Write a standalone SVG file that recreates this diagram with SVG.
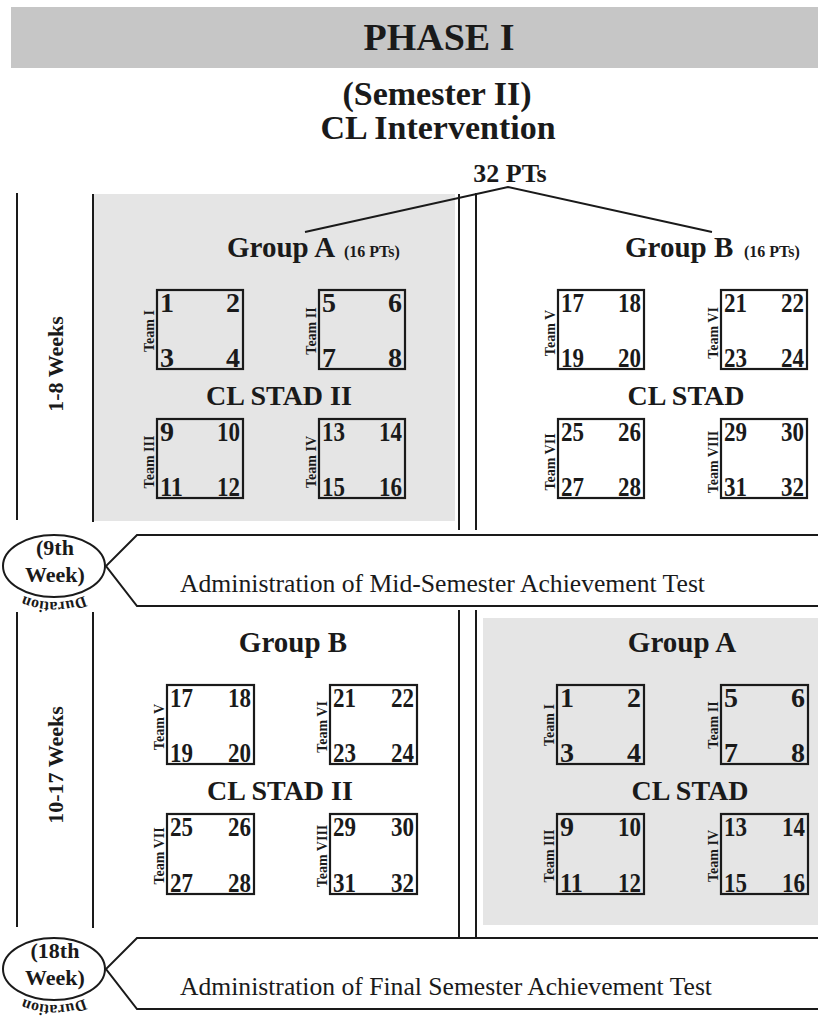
<svg xmlns="http://www.w3.org/2000/svg" width="818" height="1023" viewBox="0 0 818 1023">
<style>
text{font-family:"Liberation Serif","Times New Roman",serif;fill:#1a1a1a}
.b{font-weight:bold}
.h1{font-size:38px;font-weight:bold}
.h2{font-size:34px;font-weight:bold}
.grp{font-size:29px;font-weight:bold}
.pts{font-size:16px;font-weight:bold}
.stad{font-size:28px;font-weight:bold}
.n{font-size:28px;font-weight:bold}
.tm{font-size:14px;font-weight:bold}
.wk{font-size:22px;font-weight:bold}
.adm{font-size:25px}
.ell{font-size:22px;font-weight:bold}
.dur{font-size:16px;font-weight:bold}
.box{fill:none;stroke:#1a1a1a;stroke-width:2.2}
.ln{fill:none;stroke:#1a1a1a;stroke-width:2}
.panel{fill:#e5e5e5}
</style>
<defs>
<path id="arc1" d="M 108 566 A 54 36 0 0 1 0 566"/>
<path id="arc2" d="M 108 969 A 54 36 0 0 1 0 969"/>
</defs>
<rect width="818" height="1023" fill="#ffffff"/>

<g id="header">
<rect x="11" y="7" width="807" height="61" fill="#c6c6c6"/>
<text class="h1" x="439" y="50" text-anchor="middle">PHASE I</text>
<text class="h2" x="437" y="105" text-anchor="middle">(Semester II)</text>
<text class="h2" x="438" y="139" text-anchor="middle">CL Intervention</text>
<text x="510" y="182" text-anchor="middle" class="b" font-size="26">32 PTs</text>
</g>

<g id="panels">
<rect class="panel" x="93" y="194" width="362" height="327"/>
<rect class="panel" x="483" y="618" width="335" height="307"/>
</g>

<g id="connectors">
<polyline class="ln" points="305,232 508,187 712,232"/>
<line class="ln" x1="17" y1="193" x2="17" y2="520"/>
<line class="ln" x1="93" y1="194" x2="93" y2="522"/>
<line class="ln" x1="459" y1="194" x2="459" y2="530"/>
<line class="ln" x1="476" y1="193" x2="476" y2="530"/>
<line class="ln" x1="17" y1="612" x2="17" y2="927"/>
<line class="ln" x1="93" y1="612" x2="93" y2="928"/>
<line class="ln" x1="459" y1="610" x2="459" y2="938"/>
<line class="ln" x1="476" y1="610" x2="476" y2="938"/>
</g>

<g id="weeks-1-8">
<text class="wk" transform="translate(63,364) rotate(-90)" text-anchor="middle">1-8 Weeks</text>
</g>
<g id="weeks-10-17">
<text class="wk" transform="translate(63,765) rotate(-90)" text-anchor="middle">10-17 Weeks</text>
</g>

<g id="upper-group-a">
<text class="grp" x="227" y="257">Group A</text>
<text class="pts" x="344" y="257">(16 PTs)</text>
<text class="stad" x="279" y="405" text-anchor="middle">CL STAD II</text>
</g>
<g id="upper-group-b">
<text class="grp" x="625" y="257">Group B</text>
<text class="pts" x="744" y="257">(16 PTs)</text>
<text class="stad" x="686" y="405" text-anchor="middle">CL STAD</text>
</g>

<g id="u-team-1">
<rect class="box" x="157" y="290" width="86" height="79"/>
<text class="tm" transform="translate(154,331) rotate(-90)" text-anchor="middle">Team I</text>
<text class="n" x="160" y="312">1</text><text class="n" x="240" y="312" text-anchor="end">2</text>
<text class="n" x="160" y="367">3</text><text class="n" x="240" y="367" text-anchor="end">4</text>
</g>
<g id="u-team-2">
<rect class="box" x="319" y="290" width="86" height="79"/>
<text class="tm" transform="translate(316,331) rotate(-90)" text-anchor="middle">Team II</text>
<text class="n" x="322" y="312">5</text><text class="n" x="402" y="312" text-anchor="end">6</text>
<text class="n" x="322" y="367">7</text><text class="n" x="402" y="367" text-anchor="end">8</text>
</g>
<g id="u-team-3">
<rect class="box" x="157" y="419" width="86" height="79"/>
<text class="tm" transform="translate(154,462) rotate(-90)" text-anchor="middle">Team III</text>
<text class="n" x="160" y="441">9</text><text class="n" x="240" y="441" text-anchor="end" textLength="23" lengthAdjust="spacingAndGlyphs">10</text>
<text class="n" x="160" y="496" textLength="23" lengthAdjust="spacingAndGlyphs">11</text><text class="n" x="240" y="496" text-anchor="end" textLength="23" lengthAdjust="spacingAndGlyphs">12</text>
</g>
<g id="u-team-4">
<rect class="box" x="319" y="419" width="86" height="79"/>
<text class="tm" transform="translate(316,462) rotate(-90)" text-anchor="middle">Team IV</text>
<text class="n" x="322" y="441" textLength="23" lengthAdjust="spacingAndGlyphs">13</text><text class="n" x="402" y="441" text-anchor="end" textLength="23" lengthAdjust="spacingAndGlyphs">14</text>
<text class="n" x="322" y="496" textLength="23" lengthAdjust="spacingAndGlyphs">15</text><text class="n" x="402" y="496" text-anchor="end" textLength="23" lengthAdjust="spacingAndGlyphs">16</text>
</g>

<g id="u-team-5">
<rect class="box" x="558" y="290" width="86" height="79"/>
<text class="tm" transform="translate(555,333) rotate(-90)" text-anchor="middle">Team V</text>
<text class="n" x="561" y="312" textLength="23" lengthAdjust="spacingAndGlyphs">17</text><text class="n" x="641" y="312" text-anchor="end" textLength="23" lengthAdjust="spacingAndGlyphs">18</text>
<text class="n" x="561" y="367" textLength="23" lengthAdjust="spacingAndGlyphs">19</text><text class="n" x="641" y="367" text-anchor="end" textLength="23" lengthAdjust="spacingAndGlyphs">20</text>
</g>
<g id="u-team-6">
<rect class="box" x="721" y="290" width="86" height="79"/>
<text class="tm" transform="translate(718,333) rotate(-90)" text-anchor="middle">Team VI</text>
<text class="n" x="724" y="312" textLength="23" lengthAdjust="spacingAndGlyphs">21</text><text class="n" x="804" y="312" text-anchor="end" textLength="23" lengthAdjust="spacingAndGlyphs">22</text>
<text class="n" x="724" y="367" textLength="23" lengthAdjust="spacingAndGlyphs">23</text><text class="n" x="804" y="367" text-anchor="end" textLength="23" lengthAdjust="spacingAndGlyphs">24</text>
</g>
<g id="u-team-7">
<rect class="box" x="558" y="419" width="86" height="79"/>
<text class="tm" transform="translate(555,462) rotate(-90)" text-anchor="middle">Team VII</text>
<text class="n" x="561" y="441" textLength="23" lengthAdjust="spacingAndGlyphs">25</text><text class="n" x="641" y="441" text-anchor="end" textLength="23" lengthAdjust="spacingAndGlyphs">26</text>
<text class="n" x="561" y="496" textLength="23" lengthAdjust="spacingAndGlyphs">27</text><text class="n" x="641" y="496" text-anchor="end" textLength="23" lengthAdjust="spacingAndGlyphs">28</text>
</g>
<g id="u-team-8">
<rect class="box" x="721" y="419" width="86" height="79"/>
<text class="tm" transform="translate(718,462) rotate(-90)" text-anchor="middle">Team VIII</text>
<text class="n" x="724" y="441" textLength="23" lengthAdjust="spacingAndGlyphs">29</text><text class="n" x="804" y="441" text-anchor="end" textLength="23" lengthAdjust="spacingAndGlyphs">30</text>
<text class="n" x="724" y="496" textLength="23" lengthAdjust="spacingAndGlyphs">31</text><text class="n" x="804" y="496" text-anchor="end" textLength="23" lengthAdjust="spacingAndGlyphs">32</text>
</g>

<g id="mid-test">
<polyline class="ln" points="818,535 137,535 106,566 137,606 818,606"/>
<ellipse class="ln" cx="54" cy="566" rx="51" ry="31"/>
<text class="ell" x="55" y="555" text-anchor="middle">(9th</text>
<text class="ell" x="55" y="582" text-anchor="middle">Week)</text>
<text class="dur"><textPath href="#arc1" startOffset="50%" text-anchor="middle">Duration</textPath></text>
<text class="adm" x="180" y="592" textLength="525" lengthAdjust="spacingAndGlyphs">Administration of Mid-Semester Achievement Test</text>
</g>

<g id="lower-group-b">
<text class="grp" x="293" y="652" text-anchor="middle">Group B</text>
<text class="stad" x="280" y="800" text-anchor="middle">CL STAD II</text>
</g>
<g id="lower-group-a">
<text class="grp" x="682" y="652" text-anchor="middle">Group A</text>
<text class="stad" x="690" y="800" text-anchor="middle">CL STAD</text>
</g>

<g id="l-team-5">
<rect class="box" x="167" y="685" width="87" height="79"/>
<text class="tm" transform="translate(164,727) rotate(-90)" text-anchor="middle">Team V</text>
<text class="n" x="170" y="707" textLength="23" lengthAdjust="spacingAndGlyphs">17</text><text class="n" x="251" y="707" text-anchor="end" textLength="23" lengthAdjust="spacingAndGlyphs">18</text>
<text class="n" x="170" y="762" textLength="23" lengthAdjust="spacingAndGlyphs">19</text><text class="n" x="251" y="762" text-anchor="end" textLength="23" lengthAdjust="spacingAndGlyphs">20</text>
</g>
<g id="l-team-6">
<rect class="box" x="330" y="685" width="87" height="79"/>
<text class="tm" transform="translate(327,727) rotate(-90)" text-anchor="middle">Team VI</text>
<text class="n" x="333" y="707" textLength="23" lengthAdjust="spacingAndGlyphs">21</text><text class="n" x="414" y="707" text-anchor="end" textLength="23" lengthAdjust="spacingAndGlyphs">22</text>
<text class="n" x="333" y="762" textLength="23" lengthAdjust="spacingAndGlyphs">23</text><text class="n" x="414" y="762" text-anchor="end" textLength="23" lengthAdjust="spacingAndGlyphs">24</text>
</g>
<g id="l-team-7">
<rect class="box" x="167" y="814" width="87" height="80"/>
<text class="tm" transform="translate(164,856) rotate(-90)" text-anchor="middle">Team VII</text>
<text class="n" x="170" y="836" textLength="23" lengthAdjust="spacingAndGlyphs">25</text><text class="n" x="251" y="836" text-anchor="end" textLength="23" lengthAdjust="spacingAndGlyphs">26</text>
<text class="n" x="170" y="892" textLength="23" lengthAdjust="spacingAndGlyphs">27</text><text class="n" x="251" y="892" text-anchor="end" textLength="23" lengthAdjust="spacingAndGlyphs">28</text>
</g>
<g id="l-team-8">
<rect class="box" x="330" y="814" width="87" height="80"/>
<text class="tm" transform="translate(327,856) rotate(-90)" text-anchor="middle">Team VIII</text>
<text class="n" x="333" y="836" textLength="23" lengthAdjust="spacingAndGlyphs">29</text><text class="n" x="414" y="836" text-anchor="end" textLength="23" lengthAdjust="spacingAndGlyphs">30</text>
<text class="n" x="333" y="892" textLength="23" lengthAdjust="spacingAndGlyphs">31</text><text class="n" x="414" y="892" text-anchor="end" textLength="23" lengthAdjust="spacingAndGlyphs">32</text>
</g>

<g id="l-team-1">
<rect class="box" x="557" y="685" width="87" height="79"/>
<text class="tm" transform="translate(554,725) rotate(-90)" text-anchor="middle">Team I</text>
<text class="n" x="560" y="707">1</text><text class="n" x="641" y="707" text-anchor="end">2</text>
<text class="n" x="560" y="762">3</text><text class="n" x="641" y="762" text-anchor="end">4</text>
</g>
<g id="l-team-2">
<rect class="box" x="721" y="685" width="87" height="79"/>
<text class="tm" transform="translate(718,725) rotate(-90)" text-anchor="middle">Team II</text>
<text class="n" x="724" y="707">5</text><text class="n" x="805" y="707" text-anchor="end">6</text>
<text class="n" x="724" y="762">7</text><text class="n" x="805" y="762" text-anchor="end">8</text>
</g>
<g id="l-team-3">
<rect class="box" x="557" y="814" width="87" height="80"/>
<text class="tm" transform="translate(554,856) rotate(-90)" text-anchor="middle">Team III</text>
<text class="n" x="560" y="836">9</text><text class="n" x="641" y="836" text-anchor="end" textLength="23" lengthAdjust="spacingAndGlyphs">10</text>
<text class="n" x="560" y="892" textLength="23" lengthAdjust="spacingAndGlyphs">11</text><text class="n" x="641" y="892" text-anchor="end" textLength="23" lengthAdjust="spacingAndGlyphs">12</text>
</g>
<g id="l-team-4">
<rect class="box" x="721" y="814" width="87" height="80"/>
<text class="tm" transform="translate(718,856) rotate(-90)" text-anchor="middle">Team IV</text>
<text class="n" x="724" y="836" textLength="23" lengthAdjust="spacingAndGlyphs">13</text><text class="n" x="805" y="836" text-anchor="end" textLength="23" lengthAdjust="spacingAndGlyphs">14</text>
<text class="n" x="724" y="892" textLength="23" lengthAdjust="spacingAndGlyphs">15</text><text class="n" x="805" y="892" text-anchor="end" textLength="23" lengthAdjust="spacingAndGlyphs">16</text>
</g>

<g id="final-test">
<polyline class="ln" points="818,938 137,938 106,969 137,1009 818,1009"/>
<ellipse class="ln" cx="54" cy="969" rx="51" ry="31"/>
<text class="ell" x="55" y="958" text-anchor="middle">(18th</text>
<text class="ell" x="55" y="985" text-anchor="middle">Week)</text>
<text class="dur"><textPath href="#arc2" startOffset="50%" text-anchor="middle">Duration</textPath></text>
<text class="adm" x="180" y="995" textLength="532" lengthAdjust="spacingAndGlyphs">Administration of Final Semester Achievement Test</text>
</g>
</svg>
